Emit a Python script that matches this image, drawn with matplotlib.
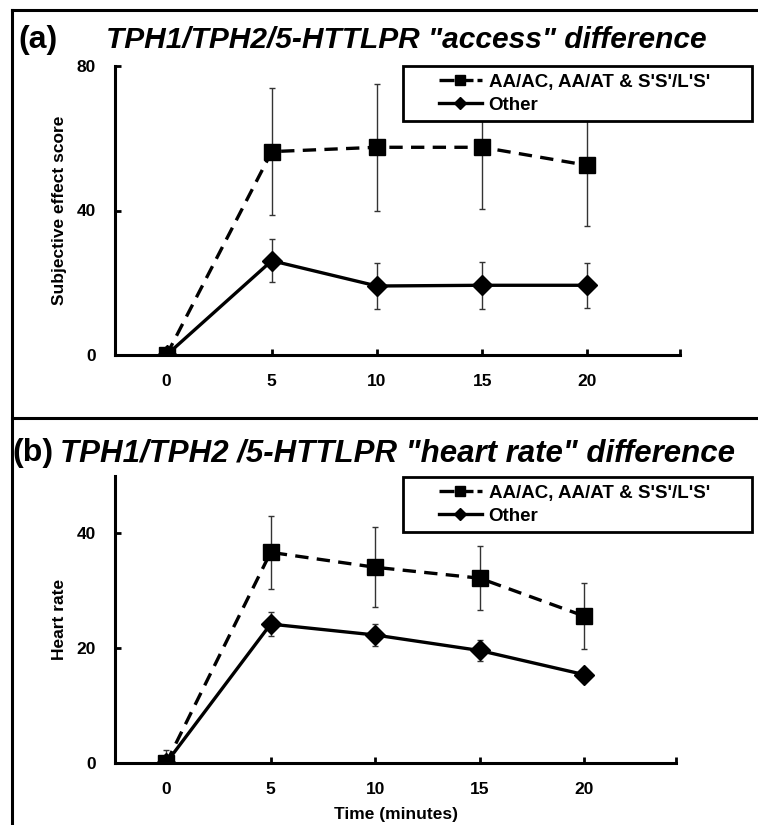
import numpy as np
import matplotlib; matplotlib.use('Agg')
import matplotlib.pyplot as plt
from matplotlib.lines import Line2D
from matplotlib.legend_handler import HandlerLine2D

plt.rcParams['font.family'] = ['Liberation Sans', 'DejaVu Sans']
plt.rcParams['font.weight'] = 'bold'

t = [0, 5, 10, 15, 20]
labels = ["AA/AC, AA/AT & S'S'/L'S'", "Other"]

# (a) subjective effect score
a_sq = [0, 56.3, 57.5, 57.5, 52.5]
a_sq_err = [0, 17.6, 17.5, 17.0, 16.7]
a_di = [0, 26.1, 19.1, 19.3, 19.3]
a_di_err = [0, 5.9, 6.5, 6.5, 6.3]

# (b) heart rate
b_sq = [0, 36.7, 34.1, 32.2, 25.6]
b_sq_err = [2.3, 6.4, 7.0, 5.6, 5.7]
b_di = [0, 24.2, 22.3, 19.6, 15.4]
b_di_err = [0, 2.1, 2.0, 1.8, 0.8]

W, H = 758, 825
fig = plt.figure(figsize=(W/100, H/100), dpi=100)

def fx(p): return p / W
def fy(p): return 1 - p / H

# frame lines around the panels
for xs, ys in [([12, 12], [10, 825]), ([12, 758], [10, 10]), ([12, 758], [418, 418])]:
    fig.add_artist(Line2D([fx(x) for x in xs], [fy(y) for y in ys], color='black', lw=2.2))

def leg_dash(handle, orig):
    handle.update_from(orig)
    if orig.get_linestyle() != '-':
        handle.set_linestyle((0, (4.5, 1.2)))

def panel(rect, sq, sq_err, di, di_err, ylim, yticks, ylabel, leg_top):
    ax = fig.add_axes(rect)
    ax.errorbar(t, sq, yerr=sq_err, fmt='none', ecolor='#333333', elinewidth=1, capsize=2.5, capthick=1)
    ax.errorbar(t, di, yerr=di_err, fmt='none', ecolor='#333333', elinewidth=1, capsize=2.5, capthick=1)
    ax.plot(t, sq, color='black', ls=(0, (4, 2.5)), lw=2.4, marker='s', ms=12, label=labels[0])
    ax.plot(t, di, color='black', ls='-', lw=2.4, marker='D', ms=10.5, label=labels[1])
    ax.set_xlim(-2.45, 24.4)
    ax.set_ylim(*ylim)
    ax.set_xticks(t)
    ax.set_yticks(yticks)
    ax.set_xticks([24.4], minor=True)
    for s in ['top', 'right']:
        ax.spines[s].set_visible(False)
    for s in ['left', 'bottom']:
        ax.spines[s].set_linewidth(2.2)
    ax.tick_params(direction='in', length=4, width=2, labelsize=12.5, pad=14)
    ax.tick_params(which='minor', direction='in', length=4, width=2)
    ax.set_ylabel(ylabel, fontsize=12.5, fontweight='bold')
    ax.yaxis.set_label_coords(-48 / rect_px_w(ax), 0.5)
    hm = HandlerLine2D(xpad=1.5, update_func=leg_dash)
    leg = ax.legend(loc='upper left', bbox_to_anchor=(fx(403), fy(leg_top) - 0.01, fx(349), 0.01),
                    bbox_transform=fig.transFigure, mode='expand', borderaxespad=0,
                    fancybox=False, framealpha=1, edgecolor='black', fontsize=13.5,
                    handlelength=3.8, handletextpad=0.37, labelspacing=0.32,
                    borderpad=0.4, markerscale=0.6,
                    handler_map={Line2D: hm})
    leg.get_frame().set_linewidth(2)
    return ax

def rect_px_w(ax):
    return ax.get_position().width * W

axa = panel([fx(115), fy(355), fx(680 - 115), fy(66) - fy(355)],
            a_sq, a_sq_err, a_di, a_di_err, (0, 80), [0, 40, 80], 'Subjective effect score', 66)
axb = panel([fx(115), fy(763), fx(676 - 115), fy(476) - fy(763)],
            b_sq, b_sq_err, b_di, b_di_err, (0, 50), [0, 20, 40], 'Heart rate', 477)
axb.set_xlabel('Time (minutes)', fontsize=12.5, fontweight='bold', labelpad=7)

fig.text(fx(18), fy(40), '(a)', fontsize=23, fontweight='bold', va='center')
fig.text(fx(106), fy(40), 'TPH1/TPH2/5-HTTLPR "access" difference', fontsize=21.5,
         fontweight='bold', style='italic', va='center')
fig.text(fx(12), fy(453), '(b)', fontsize=23, fontweight='bold', va='center')
fig.text(fx(60), fy(453), 'TPH1/TPH2 /5-HTTLPR "heart rate" difference', fontsize=22.5,
         fontweight='bold', style='italic', va='center')

fig.savefig('out.png', dpi=100)
